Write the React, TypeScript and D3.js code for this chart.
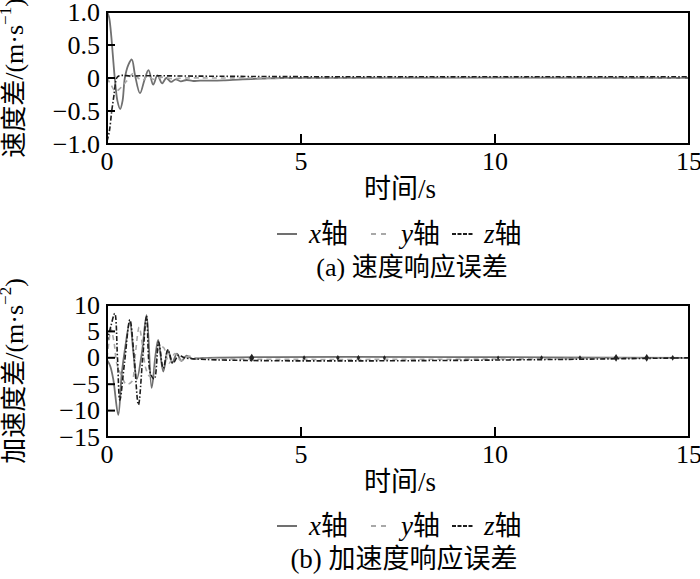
import React from "react";
import * as d3 from "d3";

// ---------- data: (a) velocity response error ----------
const velTX = [0, 0.05, 0.1, 0.15, 0.2, 0.27, 0.34, 0.4, 0.46, 0.55, 0.64, 0.72, 0.85, 0.97, 1.07, 1.19, 1.3, 1.42, 1.53, 1.65, 1.77, 1.9, 2.05, 2.2, 2.4, 2.7, 3.0, 3.5, 4.0, 4.5, 15];
const velX = [1.0, 0.93, 0.7, 0.35, 0.0, -0.35, -0.47, -0.35, 0.0, 0.2, 0.28, 0.05, -0.23, -0.02, 0.12, -0.1, 0.04, -0.08, 0.0, -0.06, -0.02, -0.05, -0.03, -0.045, -0.04, -0.04, -0.035, -0.02, -0.01, 0, 0];
const velTY = [0, 0.1, 0.22, 0.35, 0.5, 0.68, 0.8, 0.92, 1.05, 1.2, 1.4, 1.7, 2.0, 3.0, 15];
const velY = [0, -0.1, -0.2, -0.15, -0.05, 0.07, 0.0, -0.04, 0.03, -0.02, 0.01, -0.01, 0.0, 0.0, 0];
const velTZ = [0, 0.06, 0.12, 0.18, 0.25, 0.3, 0.4, 0.6, 1.0, 2.0, 5, 15];
const velZ = [-0.96, -0.81, -0.51, -0.26, 0.0, 0.03, 0.04, 0.03, 0.035, 0.03, 0.02, 0.02];

// ---------- data: (b) acceleration response error ----------
const accTX = [0, 0.08, 0.16, 0.29, 0.38, 0.46, 0.59, 0.68, 0.77, 0.9, 1.02, 1.15, 1.25, 1.32, 1.45, 1.57, 1.68, 1.8, 1.92, 2.05, 2.2, 2.5, 15];
const accX = [-0.4, -1.5, -4, -10.8, -3, 1.5, 6.8, 1, -4, 1, 8.1, -5.7, 0.5, 3.4, -2.6, 1.5, -1, 0.8, -0.6, 0.4, -0.2, 0, 0];
const accTY = [0, 0.05, 0.1, 0.18, 0.25, 0.35, 0.5, 0.64, 0.72, 0.83, 0.92, 1.0, 1.1, 1.2, 1.32, 1.45, 1.6, 1.75, 1.9, 2.1, 2.3, 15];
const accY = [0, 3, 5.5, 3, -1, -3, -5, -4.5, 0, 5.8, 2, -2, -3.5, -3, 1.5, 2, -1, 0.8, -0.5, 0.3, 0, 0];
const accTZ = [0, 0.1, 0.2, 0.27, 0.33, 0.45, 0.59, 0.7, 0.81, 0.92, 1.02, 1.12, 1.22, 1.33, 1.45, 1.57, 1.7, 1.85, 2.0, 15];
const accZ = [3, 6, 8.4, 0, -8, -1, 7.2, 0, -8.9, 0, 7.8, -3, -4, 3, -2, 1.5, -1, 0.5, 0, 0];
const accSpikeT = [3.73, 5.08, 5.95, 6.48, 7.15, 10.08, 11.2, 12.19, 13.12, 13.91, 14.58];
const accSpikeSize = [2.6, 1.6, 1.8, 1.8, 1.6, 1.4, 1.6, 1.6, 2.4, 2.4, 1.8];

// ---------- axes / labels ----------
const xTicks = [0, 5, 10, 15];
const velTicks = [1.0, 0.5, 0, -0.5, -1.0];
const velTickLabels = ["1.0", "0.5", "0", "\u22120.5", "\u22121.0"];
const accTicks = [10, 5, 0, -5, -10, -15];
const accTickLabels = ["10", "5", "0", "\u22125", "\u221210", "\u221215"];
const xTitle = "时间/s";
const legendNames = ["x", "y", "z"];
const captionA = "(a) 速度响应误差";
const captionB = "(b) 加速度响应误差";

const FONT = "'Liberation Serif', 'Noto Sans CJK SC', serif";
const styles = [
  { stroke: "#707070", dash: "none", w: 1.8 },
  { stroke: "#a8a8a8", dash: "5,4", w: 1.6 },
  { stroke: "#1c1c1c", dash: "5,2,1.5,2", w: 1.6 },
];

const PL = 107, PR = 689;

function Panel({ top, bottom, yDomain, ticks, tickLabels, series, yTitle, sup, spikes, legendY, captionY, caption, captionX, captionSize }: any) {
  const x = d3.scaleLinear().domain([0, 15]).range([PL, PR]);
  const y = d3.scaleLinear().domain(yDomain).range([bottom, top]);
  const line = d3.line<[number, number]>().x(d => x(d[0])).y(d => y(d[1])).curve(d3.curveCatmullRom.alpha(0.5));
  const inner = ticks.filter((t: number) => t !== yDomain[0] && t !== yDomain[1]);
  const cy = (top + bottom) / 2;
  const legendItems = [
    { x0: 277, x1: 297, tx: 309 },
    { x0: 371, x1: 391, tx: 401 },
    { x0: 452, x1: 474, tx: 484 },
  ];
  return (
    <g>
      <defs>
        <clipPath id={`clip${top}`}>
          <rect x={PL} y={top} width={PR - PL} height={bottom - top} />
        </clipPath>
      </defs>
      <g clipPath={`url(#clip${top})`}>
        {series.map((s: any, i: number) => (
          <path key={i} d={line(s.t.map((t: number, j: number) => [t, s.v[j]]) as any) || ""} fill="none"
            stroke={styles[i].stroke} strokeWidth={styles[i].w} strokeDasharray={styles[i].dash} />
        ))}
        {spikes && spikes.t.map((t: number, i: number) => {
          const r = spikes.s[i];
          const cx = x(t), c = y(0);
          return <path key={i} d={`M${cx},${c - r * 1.6}L${cx + r},${c}L${cx},${c + r * 1.6}L${cx - r},${c}Z`} fill="#222" />;
        })}
      </g>
      <rect x={PL} y={top} width={PR - PL} height={bottom - top} fill="none" stroke="#000" strokeWidth={2} />
      {inner.map((t: number) => (
        <line key={t} x1={PL} x2={PL + 8} y1={y(t)} y2={y(t)} stroke="#000" strokeWidth={2} />
      ))}
      {xTicks.slice(1, -1).map(t => (
        <line key={t} x1={x(t)} x2={x(t)} y1={bottom} y2={bottom - 10} stroke="#000" strokeWidth={2} />
      ))}
      {ticks.map((t: number, i: number) => (
        <text key={t} x={100} y={y(t)} textAnchor="end" dominantBaseline="central" fontSize={26} fontFamily={FONT}>{tickLabels[i]}</text>
      ))}
      {xTicks.map(t => (
        <text key={t} x={x(t)} y={bottom + 17} textAnchor="middle" dominantBaseline="central" fontSize={26} fontFamily={FONT}>{t}</text>
      ))}
      <text x={(PL + PR) / 2 + 2} y={bottom + 45} textAnchor="middle" dominantBaseline="central" fontSize={27} fontFamily={FONT}>{xTitle}</text>
      <text transform={`translate(14,${cy}) rotate(-90)`} textAnchor="middle" dominantBaseline="central" fontSize={26} fontFamily={FONT}>
        {yTitle}/(m·s<tspan dy="-9" fontSize={17}>{sup}</tspan><tspan dy="9">)</tspan>
      </text>
      {legendItems.map((it, i) => (
        <g key={i}>
          <line x1={it.x0} x2={it.x1} y1={legendY} y2={legendY} stroke={styles[i].stroke} strokeWidth={2} strokeDasharray={i === 0 ? "none" : i === 1 ? "5,5" : "4,1.5"} />
          <text x={it.tx} y={legendY} dominantBaseline="central" fontSize={27} fontFamily={FONT}>
            <tspan fontStyle="italic">{legendNames[i]}</tspan>轴
          </text>
        </g>
      ))}
      <text x={captionX} y={captionY} textAnchor="middle" dominantBaseline="central" fontSize={captionSize} fontFamily={FONT}>{caption}</text>
    </g>
  );
}

export default function App() {
  return (
    <svg width={700} height={579} style={{ position: "absolute", left: 0, top: 0, background: "#fff" }}>
      <rect width={700} height={579} fill="#fff" />
      <Panel top={12} bottom={144} yDomain={[-1, 1]} ticks={velTicks} tickLabels={velTickLabels}
        series={[{ t: velTX, v: velX }, { t: velTY, v: velY }, { t: velTZ, v: velZ }]}
        yTitle="速度差" sup={"\u22121"} legendY={234} captionY={267} caption={captionA} captionX={412} captionSize={26} />
      <Panel top={305} bottom={437} yDomain={[-15, 10]} ticks={accTicks} tickLabels={accTickLabels}
        series={[{ t: accTX, v: accX }, { t: accTY, v: accY }, { t: accTZ, v: accZ }]}
        spikes={{ t: accSpikeT, s: accSpikeSize }}
        yTitle="加速度差" sup={"\u22122"} legendY={526} captionY={559} caption={captionB} captionX={404} captionSize={27} />
    </svg>
  );
}
